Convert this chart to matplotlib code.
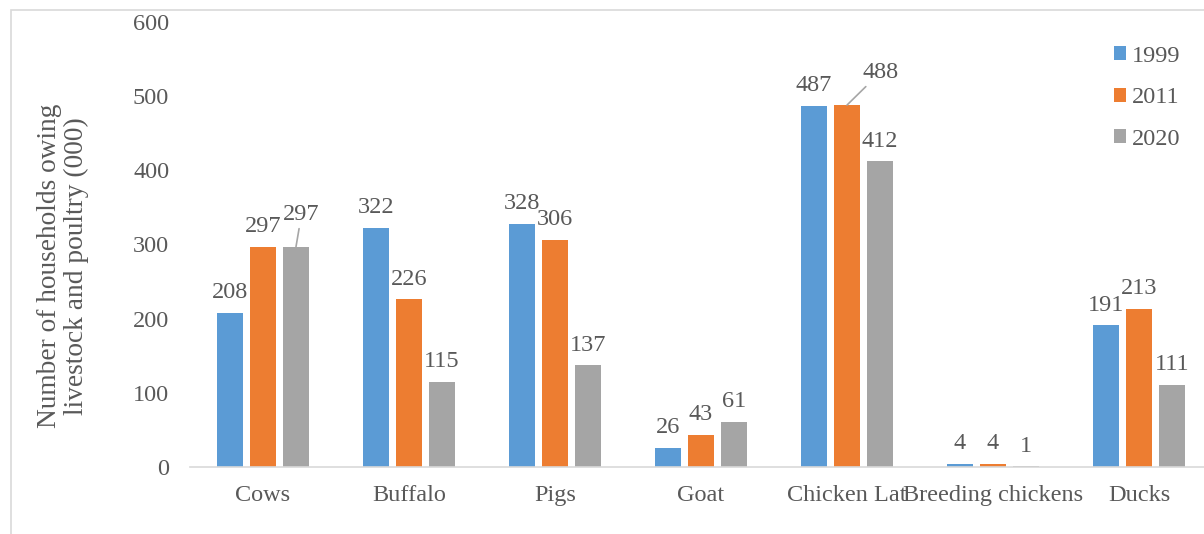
import matplotlib.pyplot as plt
import numpy as np
from matplotlib.patches import Rectangle

plt.rcParams["font.family"] = ["Liberation Serif", "DejaVu Serif"]

categories = ["Cows", "Buffalo", "Pigs", "Goat", "Chicken Lat",
              "Breeding chickens", "Ducks"]
years = ["1999", "2011", "2020"]
v1999 = [208, 322, 328, 26, 487, 4, 191]
v2011 = [297, 226, 306, 43, 488, 4, 213]
v2020 = [297, 115, 137, 61, 412, 1, 111]
yticks = [0, 100, 200, 300, 400, 500, 600]

colors = ["#5B9BD5", "#ED7D31", "#A5A5A5"]
text_color = "#595959"
line_color = "#D9D9D9"

# labels pulled away from their bar with a leader line: (series, category) -> offset in points
moved = {(2, 0): (4, 16), (1, 4): (24, 16)}

fig = plt.figure(figsize=(12.04, 5.34), dpi=100)
fig.patches.append(Rectangle((11 / 1204, -0.1), 1.2, 1.1 - 10 / 534,
                             transform=fig.transFigure, fill=False,
                             edgecolor=line_color, linewidth=1.2))

ax = fig.add_axes([190 / 1204, 1 - 467 / 534, 1022 / 1204, 445 / 534])

x = np.arange(len(categories))
width = 0.178
step = 0.226
for i, (vals, year) in enumerate(zip([v1999, v2011, v2020], years)):
    pos = x + (i - 1) * step
    ax.bar(pos, vals, width=width, color=colors[i], label=year)
    for j, v in enumerate(vals):
        if (i, j) in moved:
            ax.annotate(str(v), xy=(pos[j], v), xytext=moved[(i, j)],
                        textcoords="offset points", ha="center", va="bottom",
                        fontsize=17.5, color=text_color,
                        arrowprops=dict(arrowstyle="-", color="#A6A6A6",
                                        linewidth=1.2, shrinkA=1, shrinkB=0))
        else:
            ax.annotate(str(v), xy=(pos[j], v), xytext=(0, 7),
                        textcoords="offset points", ha="center", va="bottom",
                        fontsize=17.5, color=text_color)

ax.set_xlim(-0.5, len(categories) - 0.5)
ax.set_ylim(0, 600)
ax.set_yticks(yticks)
ax.set_yticklabels([str(t) for t in yticks])
ax.set_xticks(x)
ax.set_xticklabels(categories)
ax.tick_params(axis="both", length=0, labelsize=17.5, colors=text_color)
ax.tick_params(axis="y", pad=15)
ax.tick_params(axis="x", pad=13)
for side in ["top", "right", "left"]:
    ax.spines[side].set_visible(False)
ax.spines["bottom"].set_color(line_color)
ax.spines["bottom"].set_linewidth(1.2)

fig.text(63 / 1204, 1 - 266 / 534,
         "Number of households owing\nlivestock and poultry (000)",
         rotation=90, ha="center", va="center", fontsize=19.7,
         color=text_color, linespacing=1.1)

leg = ax.legend(loc="upper left", bbox_to_anchor=(1104 / 1204, 1 - 36 / 534),
                bbox_transform=fig.transFigure, frameon=False, fontsize=17.5,
                handlelength=0.5, handleheight=0.5, handletextpad=0.25,
                labelspacing=0.85, borderaxespad=0)
for t in leg.get_texts():
    t.set_color(text_color)

fig.savefig("out.png", dpi=100)
